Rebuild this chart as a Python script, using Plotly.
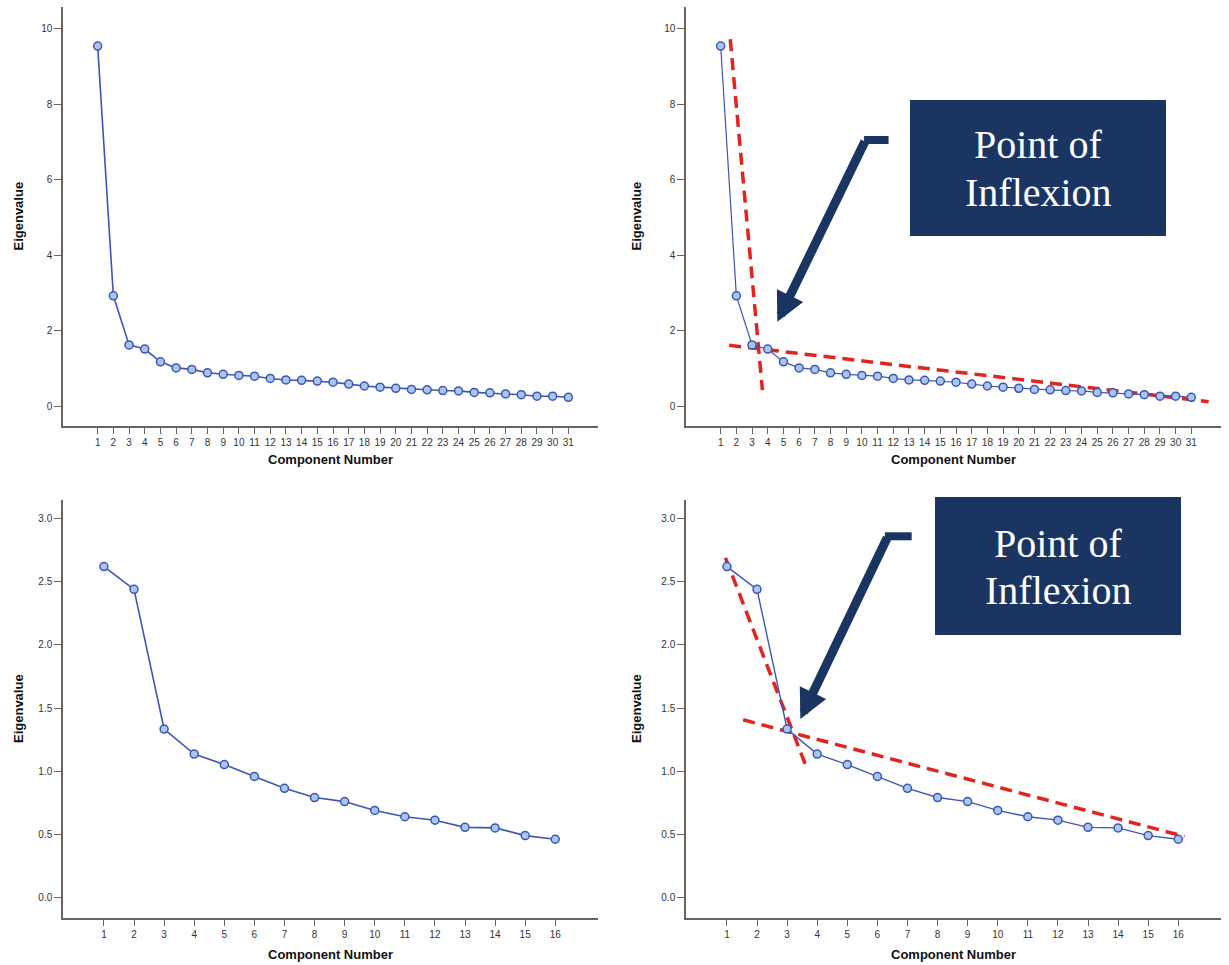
import plotly.graph_objects as go

W, H = 1229, 965

# ---------------- data ----------------
comp_top = list(range(1, 32))
eig_top = [9.54, 2.92, 1.62, 1.51, 1.17, 1.01, 0.97, 0.88, 0.84, 0.81, 0.79,
           0.73, 0.69, 0.68, 0.66, 0.63, 0.58, 0.53, 0.50, 0.47, 0.44, 0.43,
           0.41, 0.40, 0.36, 0.35, 0.32, 0.30, 0.26, 0.26, 0.23]

comp_bot = list(range(1, 17))
eig_bot = [2.62, 2.44, 1.335, 1.137, 1.054, 0.96, 0.866, 0.793, 0.761, 0.691,
           0.641, 0.614, 0.557, 0.553, 0.492, 0.463]

# dashed "elbow" guide lines (data units)
top_steep_x = [1.61, 3.66]
top_steep_y = [9.72, 0.42]
top_flat_x = [1.54, 32.1]
top_flat_y = [1.61, 0.115]

bot_steep_x = [0.95, 3.67]
bot_steep_y = [2.69, 1.016]
bot_flat_x = [1.54, 16.21]
bot_flat_y = [1.408, 0.485]

top_yticks = [0, 2, 4, 6, 8, 10]
top_yticklabels = ["0", "2", "4", "6", "8", "10"]
bot_yticks = [0.0, 0.5, 1.0, 1.5, 2.0, 2.5, 3.0]
bot_yticklabels = ["0.0", "0.5", "1.0", "1.5", "2.0", "2.5", "3.0"]

callout_text = ["Point of", "Inflexion"]

# ---------------- styles ----------------
LINE_BLUE = "#3d55b6"
MARK_FILL = "#a8c6ee"
RED = "#e3241d"
NAVY = "#1b3562"
AXIS_COL = "#6e625c"
TICK_FONT = dict(family="Liberation Sans, Arial, sans-serif", size=10, color="#333333")
TITLE_FONT = dict(family="Liberation Sans, Arial, sans-serif", size=13, color="#111111")


def px_x(p):
    return p / W


def px_y(p):
    return 1 - p / H


dom_left = [px_x(63), px_x(598)]
dom_right = [px_x(686), px_x(1221)]
dom_top = [px_y(426), px_y(7)]
dom_bot = [px_y(918), px_y(500)]

fig = go.Figure()


def scree(xs, ys, xa, ya, lw):
    fig.add_trace(go.Scatter(
        x=xs, y=ys, xaxis=xa, yaxis=ya, mode="lines+markers",
        line=dict(color=LINE_BLUE, width=lw),
        marker=dict(symbol="circle", size=8, color=MARK_FILL,
                    line=dict(color=LINE_BLUE, width=1.5)),
        showlegend=False, hoverinfo="x+y"))


def dashed(xs, ys, xa, ya):
    fig.add_trace(go.Scatter(
        x=xs, y=ys, xaxis=xa, yaxis=ya, mode="lines",
        line=dict(color=RED, width=3.5, dash="12px,7px"),
        showlegend=False, hoverinfo="skip"))


# top-left
scree(comp_top, eig_top, "x", "y", 1.6)
# top-right
dashed(top_steep_x, top_steep_y, "x2", "y2")
dashed(top_flat_x, top_flat_y, "x2", "y2")
scree(comp_top, eig_top, "x2", "y2", 1.2)
# bottom-left
scree(comp_bot, eig_bot, "x3", "y3", 1.6)
# bottom-right
dashed(bot_steep_x, bot_steep_y, "x4", "y4")
dashed(bot_flat_x, bot_flat_y, "x4", "y4")
scree(comp_bot, eig_bot, "x4", "y4", 1.4)


def xaxis(domain, anchor, rng, n):
    return dict(domain=domain, anchor=anchor, range=rng,
                tickmode="array", tickvals=list(range(1, n + 1)),
                ticktext=[str(i) for i in range(1, n + 1)],
                showline=True, linecolor=AXIS_COL, linewidth=1.5,
                ticks="outside", ticklen=6, tickwidth=1.3, tickcolor=AXIS_COL,
                showgrid=False, zeroline=False, tickfont=TICK_FONT,
                fixedrange=True)


def yaxis(domain, anchor, rng, vals, labels):
    return dict(domain=domain, anchor=anchor, range=rng,
                tickmode="array", tickvals=vals, ticktext=labels,
                showline=True, linecolor=AXIS_COL, linewidth=1.5,
                ticks="outside", ticklen=7, tickwidth=1.3, tickcolor=AXIS_COL,
                showgrid=False, zeroline=False, tickfont=TICK_FONT,
                fixedrange=True)


top_xr = [-1.21, 32.89]
top_yr = [-0.53, 10.575]
bot_xr = [-0.36, 17.42]
bot_yr = [-0.16, 3.147]

fig.update_layout(
    width=W, height=H,
    margin=dict(l=0, r=0, t=0, b=0),
    paper_bgcolor="white", plot_bgcolor="white",
    xaxis=xaxis(dom_left, "y", top_xr, 31),
    yaxis=yaxis(dom_top, "x", top_yr, top_yticks, top_yticklabels),
    xaxis2=xaxis(dom_right, "y2", top_xr, 31),
    yaxis2=yaxis(dom_top, "x2", top_yr, top_yticks, top_yticklabels),
    xaxis3=xaxis(dom_left, "y3", bot_xr, 16),
    yaxis3=yaxis(dom_bot, "x3", bot_yr, bot_yticks, bot_yticklabels),
    xaxis4=xaxis(dom_right, "y4", bot_xr, 16),
    yaxis4=yaxis(dom_bot, "x4", bot_yr, bot_yticks, bot_yticklabels),
)

annotations = []
shapes = []

# axis titles
for (cx, cy) in [(18, 216.5), (636, 216.5), (18, 709), (636, 709)]:
    annotations.append(dict(x=px_x(cx), y=px_y(cy), xref="paper", yref="paper",
                            text="<b>Eigenvalue</b>", textangle=-90, showarrow=False,
                            font=TITLE_FONT, xanchor="center", yanchor="middle"))
for (cx, cy) in [(330.5, 460), (953.5, 460), (330.5, 954), (953.5, 954)]:
    annotations.append(dict(x=px_x(cx), y=px_y(cy), xref="paper", yref="paper",
                            text="<b>Component Number</b>", showarrow=False,
                            font=TITLE_FONT, xanchor="center", yanchor="middle"))

# call-out boxes
boxes = [
    dict(x0=910, x1=1166, y0=100, y1=236, lines=(145, 193)),
    dict(x0=935, x1=1181, y0=497, y1=635, lines=(543, 590)),
]
for b in boxes:
    shapes.append(dict(type="rect", xref="paper", yref="paper",
                       x0=px_x(b["x0"]), x1=px_x(b["x1"]),
                       y0=px_y(b["y1"]), y1=px_y(b["y0"]),
                       fillcolor=NAVY, line=dict(width=0), layer="above"))
    cx = (b["x0"] + b["x1"]) / 2
    for txt, ly in zip(callout_text, b["lines"]):
        annotations.append(dict(x=px_x(cx), y=px_y(ly), xref="paper", yref="paper",
                                text=txt, showarrow=False,
                                font=dict(family="Liberation Serif, Times New Roman, serif",
                                          size=40, color="white"),
                                xanchor="center", yanchor="middle"))

# arrows (tip, bend, end of horizontal bar) in data units of each panel
arrows = [
    dict(xa="x2", ya="y2", tip=(4.61, 2.23), bend=(10.24, 7.05), bar_end=11.7),
    dict(xa="x4", ya="y4", tip=(3.44, 1.414), bend=(6.35, 2.86), bar_end=7.14),
]
for a in arrows:
    annotations.append(dict(x=a["tip"][0], y=a["tip"][1], xref=a["xa"], yref=a["ya"],
                            ax=a["bend"][0], ay=a["bend"][1], axref=a["xa"], ayref=a["ya"],
                            text="", showarrow=True, arrowhead=2, arrowsize=0.65,
                            arrowwidth=9, arrowcolor=NAVY, standoff=0))
    shapes.append(dict(type="line", xref=a["xa"], yref=a["ya"],
                       x0=a["bend"][0] - 0.1, x1=a["bar_end"],
                       y0=a["bend"][1], y1=a["bend"][1],
                       line=dict(color=NAVY, width=8)))

fig.update_layout(annotations=annotations, shapes=shapes)

fig.write_html("out.html", include_plotlyjs=True,
               config={"displayModeBar": False},
               post_script="document.body.style.margin='0';document.body.style.padding='0';document.body.style.overflow='hidden';")
